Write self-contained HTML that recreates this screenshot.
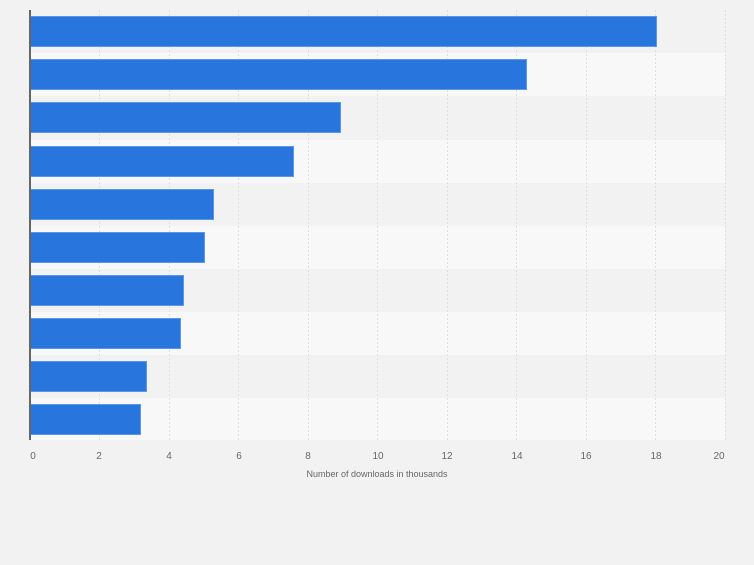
<!DOCTYPE html>
<html><head><style>
body{margin:0;background:#f2f2f2;font-family:"Liberation Sans",sans-serif;}
</style></head><body>
<svg width="754" height="560" xmlns="http://www.w3.org/2000/svg">
<rect width="754" height="560" fill="#f2f2f2"/>
<g fill="#f8f8f8">
<rect x="30" y="53" width="695" height="43"/>
<rect x="30" y="140" width="695" height="43"/>
<rect x="30" y="226" width="695" height="43"/>
<rect x="30" y="312" width="695" height="43"/>
<rect x="30" y="398" width="695" height="42"/>
</g>
<g stroke="#e0e0e0" stroke-dasharray="2,2" stroke-width="1">
<line x1="99.5" y1="10" x2="99.5" y2="440"/><line x1="169.5" y1="10" x2="169.5" y2="440"/>
<line x1="238.5" y1="10" x2="238.5" y2="440"/><line x1="308.5" y1="10" x2="308.5" y2="440"/>
<line x1="377.5" y1="10" x2="377.5" y2="440"/><line x1="447.5" y1="10" x2="447.5" y2="440"/>
<line x1="516.5" y1="10" x2="516.5" y2="440"/><line x1="586.5" y1="10" x2="586.5" y2="440"/>
<line x1="655.5" y1="10" x2="655.5" y2="440"/><line x1="725.5" y1="10" x2="725.5" y2="440"/>
</g>
<g fill="#2876dd" stroke="#5a97e8" stroke-width="1">
<rect x="30.5" y="16.5" width="626" height="30"/>
<rect x="30.5" y="59.5" width="496" height="30"/>
<rect x="30.5" y="102.5" width="310" height="30"/>
<rect x="30.5" y="146.5" width="263" height="30"/>
<rect x="30.5" y="189.5" width="183" height="30"/>
<rect x="30.5" y="232.5" width="174" height="30"/>
<rect x="30.5" y="275.5" width="153" height="30"/>
<rect x="30.5" y="318.5" width="150" height="30"/>
<rect x="30.5" y="361.5" width="116" height="30"/>
<rect x="30.5" y="404.5" width="110" height="30"/>
</g>
<line x1="30" y1="10" x2="30" y2="440" stroke="#666" stroke-width="2"/>
<g fill="#666" font-size="10" text-anchor="middle">
<text x="33" y="459">0</text><text x="99" y="459">2</text><text x="169" y="459">4</text>
<text x="239" y="459">6</text><text x="308" y="459">8</text><text x="378" y="459">10</text>
<text x="447" y="459">12</text><text x="517" y="459">14</text><text x="586" y="459">16</text>
<text x="656" y="459">18</text><text x="719" y="459">20</text>
</g>
<text x="377" y="477" fill="#666" font-size="9" text-anchor="middle">Number of downloads in thousands</text>
</svg>
</body></html>
